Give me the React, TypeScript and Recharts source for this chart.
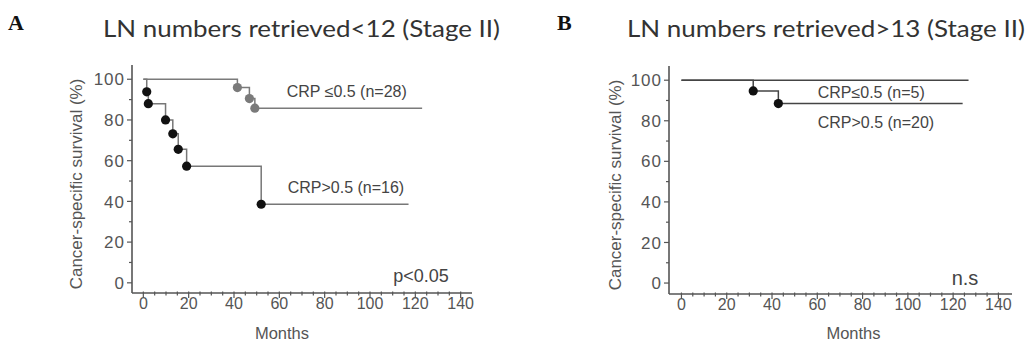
import { Line, LineChart, XAxis, YAxis } from "recharts";

// axis ticks (minor every 5 months / 10 %, labels on the major ones)
const monthTicks = [0, 5, 10, 15, 20, 25, 30, 35, 40, 45, 50, 55, 60, 65, 70, 75, 80, 85, 90, 95, 100, 105, 110, 115, 120, 125, 130, 135, 140];
const survivalTicks = [0, 10, 20, 30, 40, 50, 60, 70, 80, 90, 100];

// Panel A: LN numbers retrieved < 12
const aLowMonths = [0, 41.5, 46.8, 49.2, 123];
const aLowSurvival = [100, 95.9, 90.5, 85.8, 85.8];
const aLowEvents = [false, true, true, true, false];

const aHighMonths = [0, 1.5, 2.2, 9.8, 13.0, 15.4, 19.1, 52.0, 117];
const aHighSurvival = [100, 93.8, 88.0, 80.0, 73.2, 65.6, 57.3, 38.6, 38.6];
const aHighEvents = [false, true, true, true, true, true, true, true, false];

// Panel B: LN numbers retrieved > 13
const bLowMonths = [0, 126.8];
const bLowSurvival = [100, 100];
const bLowEvents = [false, false];

const bHighMonths = [0, 31.7, 42.8, 124.2];
const bHighSurvival = [100, 94.7, 88.5, 88.5];
const bHighEvents = [false, true, true, false];

const build = (months: number[], surv: number[], ev: boolean[]) =>
  months.map((t, i) => ({ t, s: surv[i], ev: ev[i] }));

const FONT = "'Liberation Sans', Arial, Helvetica, sans-serif";
const AXIS = "#555";

function YTick(props: any) {
  const { x, y, payload } = props;
  const major = payload.value % 20 === 0;
  return (
    <g>
      <line x1={x} x2={x - (major ? 5 : 3)} y1={y} y2={y} stroke={AXIS} strokeWidth={1.2} />
      {major && (
        <text x={x - 7} y={y} dy="0.36em" textAnchor="end" fontSize={17} letterSpacing={1} fontFamily={FONT} fill={AXIS}>
          {payload.value}
        </text>
      )}
    </g>
  );
}

function XTick(props: any) {
  const { x, y, payload } = props;
  const major = payload.value % 20 === 0;
  return (
    <g>
      <line x1={x} x2={x} y1={y - 1.5} y2={y + (major ? 5 : 2.5)} stroke={AXIS} strokeWidth={1.2} />
      {major && (
        <text x={x} y={y + 16} textAnchor="middle" fontSize={16} fontFamily={FONT} fill={AXIS}>
          {payload.value}
        </text>
      )}
    </g>
  );
}

const makeDot = (color: string) => (p: any) =>
  p.payload.ev ? (
    <circle key={`d-${p.index}`} cx={p.cx} cy={p.cy} r={4.6} fill={color} stroke="none" />
  ) : (
    <g key={`d-${p.index}`} />
  );

function Panel(props: {
  xDomain: number[];
  yDomain: number[];
  top: number;
  right: number;
  yWidth: number;
  xHeight: number;
  series: { data: any[]; line: string; dot: string }[];
}) {
  return (
    <LineChart width={513} height={343} margin={{ top: props.top, right: props.right, bottom: 0, left: 0 }}>
      <XAxis
        type="number"
        dataKey="t"
        domain={props.xDomain}
        allowDataOverflow
        ticks={monthTicks}
        interval={0}
        tick={<XTick />}
        tickLine={false}
        tickSize={0}
        tickMargin={0}
        height={props.xHeight}
        axisLine={{ stroke: AXIS, strokeWidth: 1.6 }}
      />
      <YAxis
        type="number"
        domain={props.yDomain}
        allowDataOverflow
        ticks={survivalTicks}
        interval={0}
        tick={<YTick />}
        tickLine={false}
        tickSize={0}
        tickMargin={0}
        width={props.yWidth}
        axisLine={{ stroke: AXIS, strokeWidth: 1.6 }}
      />
      {props.series.map((s, i) => (
        <Line
          key={i}
          data={s.data}
          dataKey="s"
          type="stepAfter"
          stroke={s.line}
          strokeWidth={1.5}
          dot={makeDot(s.dot)}
          activeDot={false}
          isAnimationActive={false}
        />
      ))}
    </LineChart>
  );
}

export default function App() {
  const txt = { fontFamily: FONT, fill: "#444" };
  return (
    <div style={{ position: "absolute", left: 0, top: 0, width: 1026, height: 343, background: "#fff", overflow: "hidden" }}>
      <div style={{ position: "absolute", left: 0, top: 0 }}>
        <Panel
          xDomain={[-5, 145]}
          yDomain={[-5, 107]}
          top={65}
          right={41}
          yWidth={132}
          xHeight={50}
          series={[
            { data: build(aLowMonths, aLowSurvival, aLowEvents), line: "#7a7a7a", dot: "#7a7a7a" },
            { data: build(aHighMonths, aHighSurvival, aHighEvents), line: "#777", dot: "#111" },
          ]}
        />
      </div>
      <div style={{ position: "absolute", left: 513, top: 0 }}>
        <Panel
          xDomain={[-5.5, 146]}
          yDomain={[-5.4, 107]}
          top={66}
          right={14}
          yWidth={156}
          xHeight={49}
          series={[
            { data: build(bLowMonths, bLowSurvival, bLowEvents), line: "#444", dot: "#111" },
            { data: build(bHighMonths, bHighSurvival, bHighEvents), line: "#444", dot: "#111" },
          ]}
        />
      </div>
      <svg width={1026} height={343} style={{ position: "absolute", left: 0, top: 0, pointerEvents: "none" }}>
        <text x={8} y={29.5} fontFamily="'Liberation Serif', 'Times New Roman', serif" fontWeight="bold" fontSize={22} fill="#111">A</text>
        <text x={557} y={29.5} fontFamily="'Liberation Serif', 'Times New Roman', serif" fontWeight="bold" fontSize={22} fill="#111">B</text>
        <text x={103} y={36.7} fontFamily="Lato, 'Open Sans', sans-serif" fontSize={24} fill="#333" textLength={397} lengthAdjust="spacingAndGlyphs">
          LN numbers retrieved&lt;12 (Stage II)
        </text>
        <text x={627} y={37} fontFamily="Lato, 'Open Sans', sans-serif" fontSize={24} fill="#333" textLength={398} lengthAdjust="spacingAndGlyphs">
          LN numbers retrieved&gt;13 (Stage II)
        </text>

        <text x={76.7} y={184} transform="rotate(-90 76.7 184)" textAnchor="middle" dominantBaseline="central" fontSize={17} {...txt} fill="#555">
          Cancer-specific survival (%)
        </text>
        <text x={615} y={185} transform="rotate(-90 615 185)" textAnchor="middle" dominantBaseline="central" fontSize={17} {...txt} fill="#555">
          Cancer-specific survival (%)
        </text>
        <text x={282} y={339} textAnchor="middle" fontSize={16.5} {...txt} fill="#555">Months</text>
        <text x={853.5} y={339} textAnchor="middle" fontSize={16.5} {...txt} fill="#555">Months</text>

        <text x={286.7} y={96.7} fontSize={16} {...txt}>CRP ≤0.5 (n=28)</text>
        <text x={287.7} y={193.3} fontSize={16} {...txt}>CRP&gt;0.5 (n=16)</text>
        <text x={393.3} y={281.5} fontSize={18} {...txt}>p&lt;0.05</text>

        <text x={817.7} y={97.7} fontSize={16} {...txt}>CRP≤0.5 (n=5)</text>
        <text x={817.7} y={127.7} fontSize={16} {...txt}>CRP&gt;0.5 (n=20)</text>
        <text x={951.7} y={284.5} fontSize={20} {...txt}>n.s</text>
      </svg>
    </div>
  );
}
